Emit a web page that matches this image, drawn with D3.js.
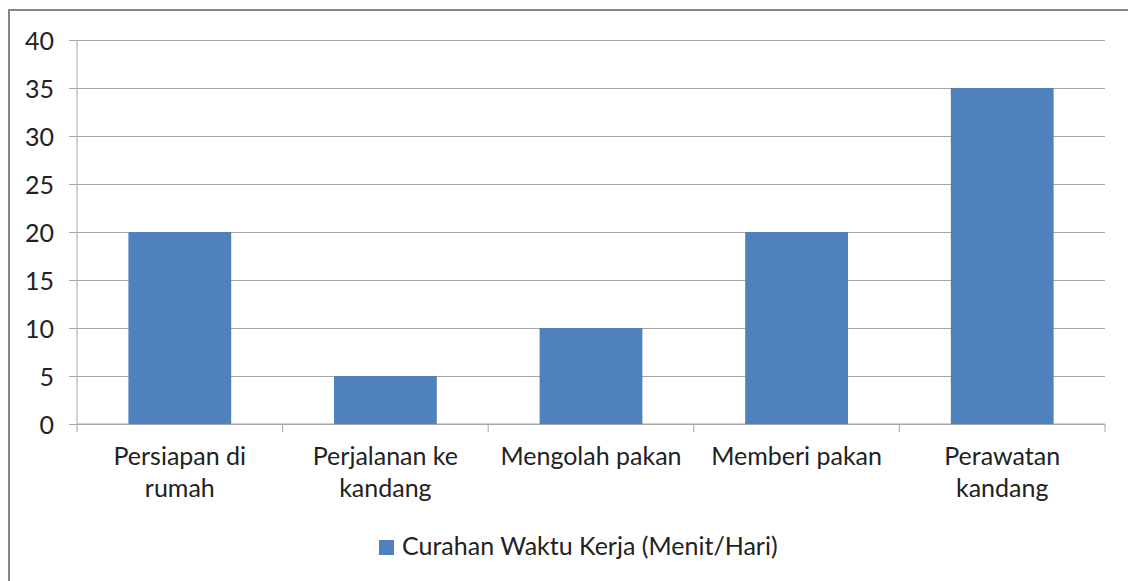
<!DOCTYPE html>
<html>
<head>
<meta charset="utf-8">
<script src="https://cdn.jsdelivr.net/npm/d3@7"></script>
<style>
  body { margin: 0; background: #fff; }
  text { font-family: Lato, "Open Sans", sans-serif; fill: #222; }
</style>
</head>
<body>
<div id="chart"></div>
<script>
var categories = ["Persiapan di rumah", "Perjalanan ke kandang", "Mengolah pakan", "Memberi pakan", "Perawatan kandang"];
var values = [20, 5, 10, 20, 35];
var yTicks = [0, 5, 10, 15, 20, 25, 30, 35, 40];
var seriesName = "Curahan Waktu Kerja (Menit/Hari)";

var W = 1128, H = 581;
var margin = { top: 40, right: 23, bottom: 157, left: 77 };
var width = W - margin.left - margin.right,
    height = H - margin.top - margin.bottom;
var fontSize = "25px";

var svg = d3.select("#chart").append("svg")
  .attr("width", W)
  .attr("height", H);

// outer chart border (right and bottom edges fall outside the picture)
svg.append("rect")
  .attr("x", 9).attr("y", 10)
  .attr("width", 1140).attr("height", 620)
  .attr("fill", "#fff")
  .attr("stroke", "#868686")
  .attr("stroke-width", 2);

var g = svg.append("g")
  .attr("transform", "translate(" + margin.left + "," + margin.top + ")");

var x = d3.scaleBand()
  .domain(categories)
  .range([0, width])
  .paddingInner(0.5)
  .paddingOuter(0.25);

var y = d3.scaleLinear()
  .domain([0, 40])
  .range([height, 0]);

// gridlines + y labels
var yAxis = d3.axisLeft(y)
  .tickValues(yTicks)
  .tickSize(-width);
var yg = g.append("g").call(yAxis);
yg.select(".domain").remove();
yg.selectAll(".tick line")
  .attr("stroke", "#a6a6a6")
  .attr("x1", -8);
yg.selectAll(".tick text")
  .attr("x", -23)
  .attr("dy", "0.36em")
  .style("font-size", fontSize)
  .style("font-family", "Lato, sans-serif")
  .attr("fill", "#222");

// y axis line
g.append("line")
  .attr("x1", 0).attr("x2", 0)
  .attr("y1", 0).attr("y2", height)
  .attr("stroke", "#a6a6a6");

// x axis baseline and tick marks at category boundaries
g.append("line")
  .attr("x1", 0).attr("x2", width)
  .attr("y1", height).attr("y2", height)
  .attr("stroke", "#a6a6a6");
var step = x.step();
g.selectAll(".xtick")
  .data(d3.range(categories.length + 1))
  .join("line")
  .attr("class", "xtick")
  .attr("x1", function(i) { return i * step; })
  .attr("x2", function(i) { return i * step; })
  .attr("y1", height)
  .attr("y2", height + 8)
  .attr("stroke", "#a6a6a6");

// bars
g.selectAll(".bar")
  .data(values)
  .join("rect")
  .attr("class", "bar")
  .attr("x", function(d, i) { return x(categories[i]); })
  .attr("width", x.bandwidth())
  .attr("y", function(d) { return y(d); })
  .attr("height", function(d) { return height - y(d); })
  .attr("fill", "#4f81bd");

// category labels, wrapped
var labels = g.selectAll(".xlabel")
  .data(categories)
  .join("text")
  .attr("class", "xlabel")
  .attr("text-anchor", "middle")
  .attr("y", height + 41)
  .style("font-size", fontSize);

labels.each(function(d) {
  var t = d3.select(this);
  var cx = x(d) + x.bandwidth() / 2;
  var words = d.split(" ");
  var line = [], lines = [];
  var tmp = t.append("tspan");
  words.forEach(function(w) {
    line.push(w);
    tmp.text(line.join(" "));
    if (tmp.node().getComputedTextLength() > 182 && line.length > 1) {
      line.pop();
      lines.push(line.join(" "));
      line = [w];
    }
  });
  lines.push(line.join(" "));
  tmp.remove();
  lines.forEach(function(l, i) {
    t.append("tspan")
      .attr("x", cx)
      .attr("dy", i === 0 ? 0 : 32)
      .text(l);
  });
});

// legend
var legend = svg.append("g").attr("transform", "translate(379,540)");
legend.append("rect")
  .attr("width", 15).attr("height", 15)
  .attr("fill", "#4f81bd");
legend.append("text")
  .attr("x", 23).attr("y", 15)
  .style("font-size", fontSize)
  .text(seriesName);
</script>
</body>
</html>
